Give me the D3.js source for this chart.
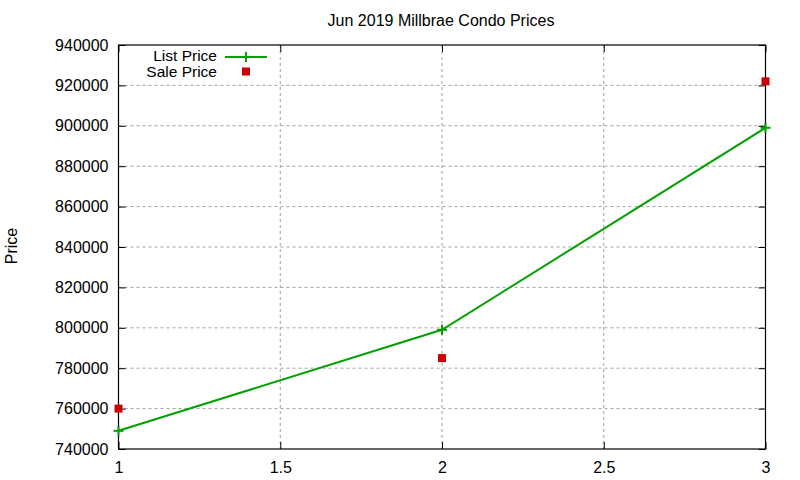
<!DOCTYPE html>
<html><head><meta charset="utf-8">
<script src="https://cdn.jsdelivr.net/npm/d3@7"></script>
<style>body{margin:0;background:#fff}svg text{font-family:"Liberation Sans",Arial,sans-serif;fill:#000}</style>
</head><body><svg id="c" width="800" height="480"></svg>
<script>
const xValues = [1, 2, 3];
const listPrice = [749000, 799000, 899000];
const salePrice = [760000, 785000, 922000];
const xTicks = [1, 1.5, 2, 2.5, 3];
const yTicks = [740000, 760000, 780000, 800000, 820000, 840000, 860000, 880000, 900000, 920000, 940000];
const title = "Jun 2019 Millbrae Condo Prices";
const yLabel = "Price";
const seriesNames = ["List Price", "Sale Price"];

const svg = d3.select("#c");
const L = 118.5, R = 765.5, T = 45, B = 449;
const x = d3.scaleLinear().domain([1, 3]).range([L, R]);
const y = d3.scaleLinear().domain([740000, 940000]).range([B, T]);
const green = "#00a000", red = "#cc0000";

// grid
const g = svg.append("g");
g.selectAll(".gx").data(xTicks.slice(1, -1)).enter().append("line")
  .attr("x1", d => x(d)).attr("x2", d => x(d)).attr("y1", T).attr("y2", B)
  .attr("stroke", "#a0a0a0").attr("stroke-dasharray", "3,3").attr("stroke-width", 1);
g.selectAll(".gy").data(yTicks.slice(1, -1)).enter().append("line")
  .attr("x1", L).attr("x2", R).attr("y1", d => y(d)).attr("y2", d => y(d))
  .attr("stroke", "#a0a0a0").attr("stroke-dasharray", "3,3").attr("stroke-width", 1);

// axes
const ax = svg.append("g").attr("transform", `translate(0,${B})`)
  .call(d3.axisBottom(x).tickValues(xTicks).tickSize(-7).tickPadding(13).tickFormat(d3.format("")));
const axT = svg.append("g").attr("transform", `translate(0,${T})`)
  .call(d3.axisTop(x).tickValues(xTicks).tickSize(-7).tickFormat(""));
const ay = svg.append("g").attr("transform", `translate(${L},0)`)
  .call(d3.axisLeft(y).tickValues(yTicks).tickSize(-7).tickPadding(10).tickFormat(d3.format("d")));
const ayR = svg.append("g").attr("transform", `translate(${R},0)`)
  .call(d3.axisRight(y).tickValues(yTicks).tickSize(-7).tickFormat(""));
[ax, axT, ay, ayR].forEach(a => {
  a.select(".domain").remove();
  a.selectAll("line").attr("stroke", "#000");
  a.selectAll("text").attr("font-size", 16).attr("font-family", '"Liberation Sans",Arial,sans-serif');
});
svg.append("rect").attr("x", L).attr("y", T).attr("width", R - L).attr("height", B - T)
  .attr("fill", "none").attr("stroke", "#000").attr("stroke-width", 1.2);

// title & label
svg.append("text").attr("x", 441).attr("y", 26).attr("text-anchor", "middle").attr("font-size", 16).text(title);
svg.append("text").attr("transform", "translate(17,246) rotate(-90)").attr("text-anchor", "middle").attr("font-size", 16).text(yLabel);

// list line
const pts = xValues.map((d, i) => [d, listPrice[i]]);
svg.append("path").datum(pts)
  .attr("d", d3.line().x(d => x(d[0])).y(d => y(d[1])))
  .attr("fill", "none").attr("stroke", green).attr("stroke-width", 2);
const plus = (sel, cx, cy) => {
  sel.append("line").attr("x1", cx - 5).attr("x2", cx + 5).attr("y1", cy).attr("y2", cy).attr("stroke", green).attr("stroke-width", 2);
  sel.append("line").attr("x1", cx).attr("x2", cx).attr("y1", cy - 5).attr("y2", cy + 5).attr("stroke", green).attr("stroke-width", 2);
};
pts.forEach(p => plus(svg, x(p[0]), y(p[1])));

// sale points
svg.selectAll(".sale").data(xValues.map((d, i) => [d, salePrice[i]])).enter().append("rect")
  .attr("x", d => x(d[0]) - 4).attr("y", d => y(d[1]) - 4).attr("width", 8).attr("height", 8).attr("fill", red);

// legend
svg.append("text").attr("x", 217).attr("y", 61).attr("text-anchor", "end").attr("font-size", 15.5).text(seriesNames[0]);
svg.append("line").attr("x1", 225).attr("x2", 267).attr("y1", 57).attr("y2", 57).attr("stroke", green).attr("stroke-width", 2);
plus(svg, 246, 57);
svg.append("text").attr("x", 217).attr("y", 77).attr("text-anchor", "end").attr("font-size", 15.5).text(seriesNames[1]);
svg.append("rect").attr("x", 242).attr("y", 67.5).attr("width", 8).attr("height", 8).attr("fill", red);
</script></body></html>
